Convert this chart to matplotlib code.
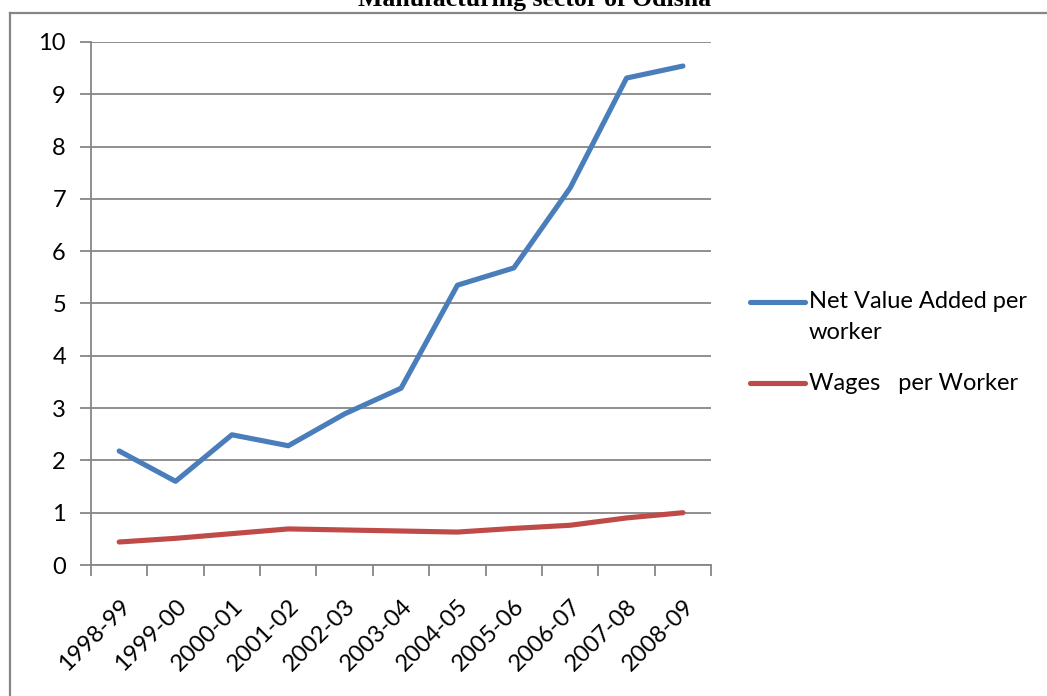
import numpy as np
import matplotlib.pyplot as plt
from matplotlib.lines import Line2D

years = ['1998-99', '1999-00', '2000-01', '2001-02', '2002-03', '2003-04',
         '2004-05', '2005-06', '2006-07', '2007-08', '2008-09']
nva_per_worker = [2.18, 1.60, 2.49, 2.28, 2.89, 3.38, 5.35, 5.68, 7.21, 9.31, 9.54]
wages_per_worker = [0.44, 0.51, 0.60, 0.69, 0.67, 0.65, 0.63, 0.70, 0.76, 0.90, 1.00]

blue = '#4A7EBB'
red = '#BE4B48'
grey = '#868686'
fs = 17

plt.rcParams['font.family'] = ['Lato', 'DejaVu Sans']

fig = plt.figure(figsize=(10.47, 6.96), dpi=100)
ax = fig.add_axes([0.0869, 0.1882, 0.5923, 0.7515])

x = np.arange(len(years))
ax.plot(x, nva_per_worker, color=blue, linewidth=3.7, solid_capstyle='round')
ax.plot(x, wages_per_worker, color=red, linewidth=3.7, solid_capstyle='round')

ax.set_xlim(-0.5, len(years) - 0.5)
ax.set_ylim(0, 10)
ax.set_yticks(range(0, 11))
ax.yaxis.grid(True, color=grey, linewidth=1.3)
ax.set_axisbelow(True)

ax.set_xticks(np.arange(-0.5, len(years), 1.0))
ax.set_xticklabels([])
ax.set_xticks(x, minor=True)
ax.set_xticklabels(years, minor=True, rotation=45, ha='right',
                   rotation_mode='anchor', fontsize=fs)
ax.tick_params(axis='x', which='minor', length=0, pad=22)
ax.tick_params(axis='x', which='major', length=8, width=1.3, color=grey)
ax.tick_params(axis='y', length=8, width=1.3, color=grey, labelsize=fs, pad=10)

for side in ['top', 'right']:
    ax.spines[side].set_visible(False)
for side in ['left', 'bottom']:
    ax.spines[side].set_color(grey)
    ax.spines[side].set_linewidth(1.3)

# legend drawn by hand so the handle sits on the first text line
fig.add_artist(Line2D([750 / 1047, 805 / 1047], [1 - 302 / 696, 1 - 302 / 696],
                      color=blue, linewidth=3.7, solid_capstyle='round'))
fig.add_artist(Line2D([750 / 1047, 805 / 1047], [1 - 383 / 696, 1 - 383 / 696],
                      color=red, linewidth=3.7, solid_capstyle='round'))
fig.text(809 / 1047, 1 - 291 / 696, 'Net Value Added per\nworker', fontsize=fs,
         va='top', ha='left', linespacing=1.6)
fig.text(809 / 1047, 1 - 383 / 696, 'Wages   per Worker', fontsize=fs,
         va='center', ha='left')

# outer chart frame and clipped title
fig.add_artist(Line2D([9.5 / 1047, 9.5 / 1047], [0, 1 - 13 / 696], color=grey, linewidth=1.6))
fig.add_artist(Line2D([9.5 / 1047, 1], [1 - 13 / 696, 1 - 13 / 696], color=grey, linewidth=1.6))
fig.text(535 / 1047, 1 - 6 / 696, 'Manufacturing sector of Odisha', family='Liberation Serif',
         fontweight='bold', fontsize=18.5, ha='center', va='baseline')

fig.savefig('out.png', dpi=100, facecolor='white')
